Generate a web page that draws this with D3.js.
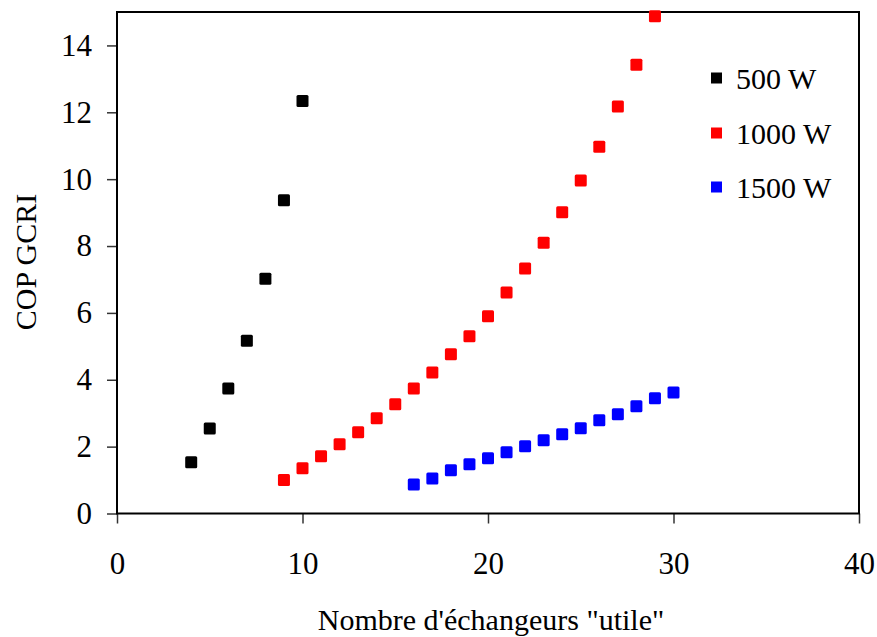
<!DOCTYPE html>
<html>
<head>
<meta charset="utf-8">
<script src="https://cdn.jsdelivr.net/npm/d3@7"></script>
<style>
  html, body { margin: 0; padding: 0; background: #fff; }
  svg { display: block; }
  text { font-family: "Liberation Serif", "DejaVu Serif", serif; }
</style>
</head>
<body>
<svg id="chart" width="877" height="637"></svg>
<script>
const seriesNames = ["500 W", "1000 W", "1500 W"];
const seriesColors = ["#000000", "#ff0000", "#0000ff"];

const x500 = [4, 5, 6, 7, 8, 9, 10];
const y500 = [1.53, 2.54, 3.74, 5.17, 7.02, 9.37, 12.34];

const x1000 = [9, 10, 11, 12, 13, 14, 15, 16, 17, 18, 19, 20, 21, 22, 23, 24, 25, 26, 27, 28, 29];
const y1000 = [1.00, 1.35, 1.71, 2.07, 2.43, 2.85, 3.27, 3.74, 4.22, 4.76, 5.30, 5.90, 6.61, 7.33, 8.10, 9.01, 9.96, 10.97, 12.17, 13.42, 14.87];

const x1500 = [16, 17, 18, 19, 20, 21, 22, 23, 24, 25, 26, 27, 28, 29, 30];
const y1500 = [0.87, 1.05, 1.29, 1.47, 1.65, 1.83, 2.01, 2.19, 2.37, 2.55, 2.79, 2.97, 3.21, 3.45, 3.62];

const xTicks = [0, 10, 20, 30, 40];
const yTicks = [0, 2, 4, 6, 8, 10, 12, 14];
const xTitle = "Nombre d'échangeurs \"utile\"";
const yTitle = "COP GCRI";

const series = [
  { name: seriesNames[0], color: seriesColors[0], xs: x500, ys: y500 },
  { name: seriesNames[1], color: seriesColors[1], xs: x1000, ys: y1000 },
  { name: seriesNames[2], color: seriesColors[2], xs: x1500, ys: y1500 }
];

const svg = d3.select("#chart");
const mLeft = 117, mRight = 859, mTop = 12, mBottom = 513.5;
const font = "Liberation Serif";
const fs = 30, tfs = 31;

const x = d3.scaleLinear().domain([0, 40]).range([mLeft, mRight]);
const y = d3.scaleLinear().domain([0, 15]).range([mBottom, mTop]);

// x axis
const xAxis = svg.append("g")
  .attr("transform", `translate(0,${mBottom})`)
  .call(d3.axisBottom(x).tickValues(xTicks).tickSize(10).tickPadding(28).tickFormat(d3.format("d")));
xAxis.select(".domain").remove();
xAxis.selectAll("line").attr("stroke", "#333").attr("stroke-width", 1.5);
xAxis.selectAll("text").attr("font-family", font).attr("font-size", tfs).attr("fill", "#000");

// y axis
const yAxis = svg.append("g")
  .attr("transform", `translate(${mLeft},0)`)
  .call(d3.axisLeft(y).tickValues(yTicks).tickSize(10).tickPadding(15).tickFormat(d3.format("d")));
yAxis.select(".domain").remove();
yAxis.selectAll("line").attr("stroke", "#333").attr("stroke-width", 1.5);
yAxis.selectAll("text").attr("font-family", font).attr("font-size", tfs).attr("fill", "#000");

// frame
svg.append("rect")
  .attr("x", mLeft).attr("y", mTop)
  .attr("width", mRight - mLeft).attr("height", mBottom - mTop)
  .attr("fill", "none").attr("stroke", "#000").attr("stroke-width", 2);

// points
const ms = 12;
series.forEach(s => {
  svg.append("g").selectAll("rect")
    .data(s.xs.map((v, i) => [v, s.ys[i]]))
    .join("rect")
    .attr("x", d => x(d[0]) - ms / 2)
    .attr("y", d => y(d[1]) - ms / 2)
    .attr("width", ms).attr("height", ms)
    .attr("rx", 1.5)
    .attr("fill", s.color);
});

// legend
const legY = [78, 133, 187];
const lg = svg.append("g");
series.forEach((s, i) => {
  lg.append("rect")
    .attr("x", 711).attr("y", legY[i] - 5.5)
    .attr("width", 11).attr("height", 11)
    .attr("fill", s.color);
  lg.append("text")
    .attr("x", 736).attr("y", legY[i])
    .attr("dy", "0.35em")
    .attr("font-family", font).attr("font-size", fs)
    .attr("fill", "#000")
    .text(s.name);
});

// titles
svg.append("text")
  .attr("x", 491).attr("y", 630)
  .attr("text-anchor", "middle")
  .attr("font-family", font).attr("font-size", fs)
  .text(xTitle);

svg.append("text")
  .attr("transform", `translate(36,262) rotate(-90)`)
  .attr("text-anchor", "middle")
  .attr("font-family", font).attr("font-size", fs)
  .text(yTitle);
</script>
</body>
</html>
